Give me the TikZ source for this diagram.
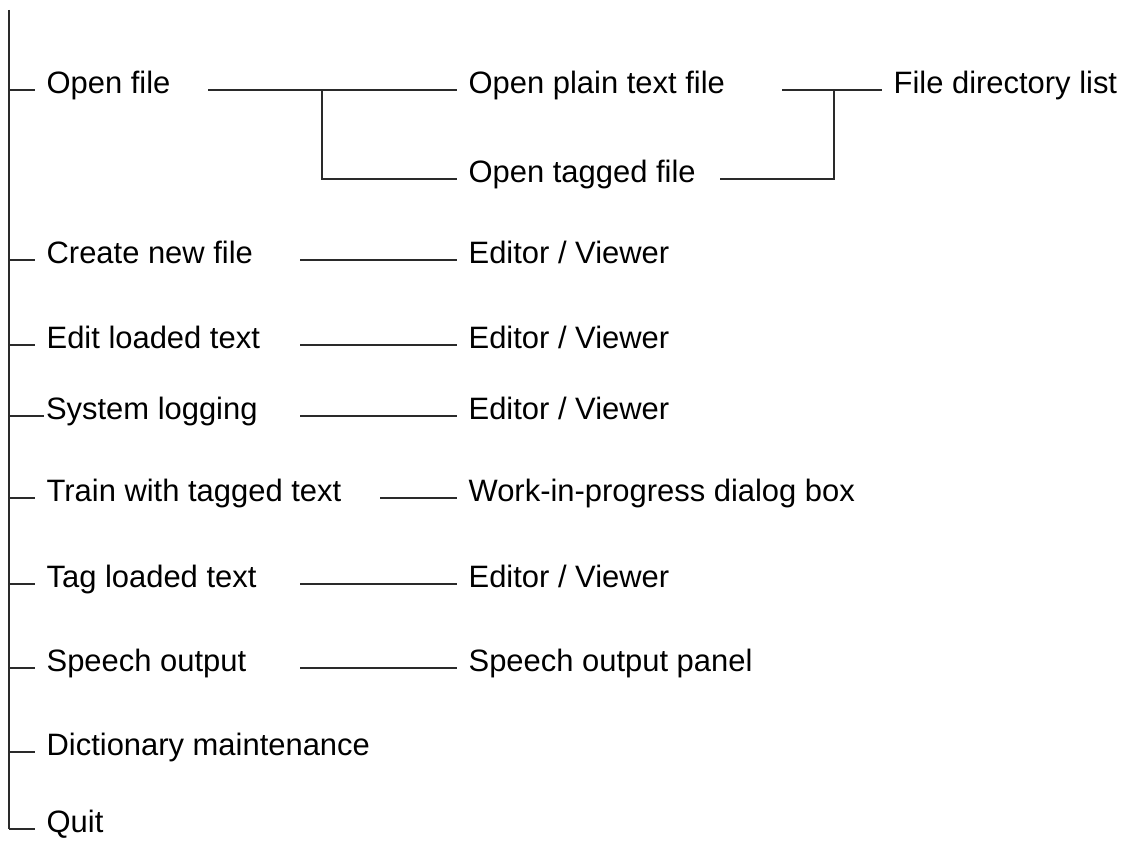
\documentclass[tikz,border=0pt]{standalone}
\usepackage{fontspec}
\setmainfont{Liberation Sans}
\usetikzlibrary{calc}
\definecolor{rule}{HTML}{2A2A2A}

\begin{document}
\begin{tikzpicture}[x=0.025cm,y=-0.025cm,line width=0.9pt,
  item/.style={font=\fontsize{22}{26}\selectfont,anchor=west,inner ysep=0pt,
    inner xsep=0.275cm,text height=4.4pt,text depth=0pt},
  link/.style={draw=rule}]
  \useasboundingbox (0,0) rectangle (1123,846);

  % main menu
  \node[item] (open)   at (35,90)  {Open file};
  \node[item] (create) at (35,260) {Create new file};
  \node[item] (edit)   at (35,345) {Edit loaded text};
  \node[item,inner xsep=1pt] (syslog) at (44,416) {System logging};
  \node[item] (train)  at (35,498) {Train with tagged text};
  \node[item] (tag)    at (35,584) {Tag loaded text};
  \node[item] (speech) at (35,668) {Speech output};
  \node[item] (dict)   at (35,752) {Dictionary maintenance};
  \node[item] (quit)   at (35,829) {Quit};

  % sub menus
  \node[item] (plain)   at (457,90)  {Open plain text file};
  \node[item] (tagged)  at (457,179) {Open tagged file};
  \node[item] (dirlist) at (882,90)  {File directory list};
  \node[item] (ed1)     at (457,260) {Editor / Viewer};
  \node[item] (ed2)     at (457,345) {Editor / Viewer};
  \node[item] (ed3)     at (457,416) {Editor / Viewer};
  \node[item] (wip)     at (457,498) {Work-in-progress dialog box};
  \node[item] (ed4)     at (457,584) {Editor / Viewer};
  \node[item] (panel)   at (457,668) {Speech output panel};

  % spine and ticks
  \coordinate (top) at (9,10);
  \draw[link] (top) -- (top |- quit.west);
  \foreach \n in {open,create,edit,syslog,train,tag,speech,dict,quit}
    \draw[link] (top |- \n.west) -- (\n.west);

  % open file branch
  \coordinate (tabA) at (208,0);
  \coordinate (forkA) at (322,0);
  \draw[link] (open.west -| tabA) -- (plain.west);
  \draw[link] (forkA |- open.west) |- (tagged.west);

  % file directory branch
  \coordinate (tabB) at (782,0);
  \coordinate (forkB) at (834,0);
  \draw[link] (plain.west -| tabB) -- (dirlist.west);
  \draw[link] (tagged.west -| 720,0) -| (forkB |- dirlist.west);

  % editor links
  \coordinate (tab) at (300,0);
  \foreach \a/\b in {create/ed1,edit/ed2,syslog/ed3,tag/ed4,speech/panel}
    \draw[link] (\a.west -| tab) -- (\b.west);
  \draw[link] (train.west -| 380,0) -- (wip.west);
\end{tikzpicture}
\end{document}
